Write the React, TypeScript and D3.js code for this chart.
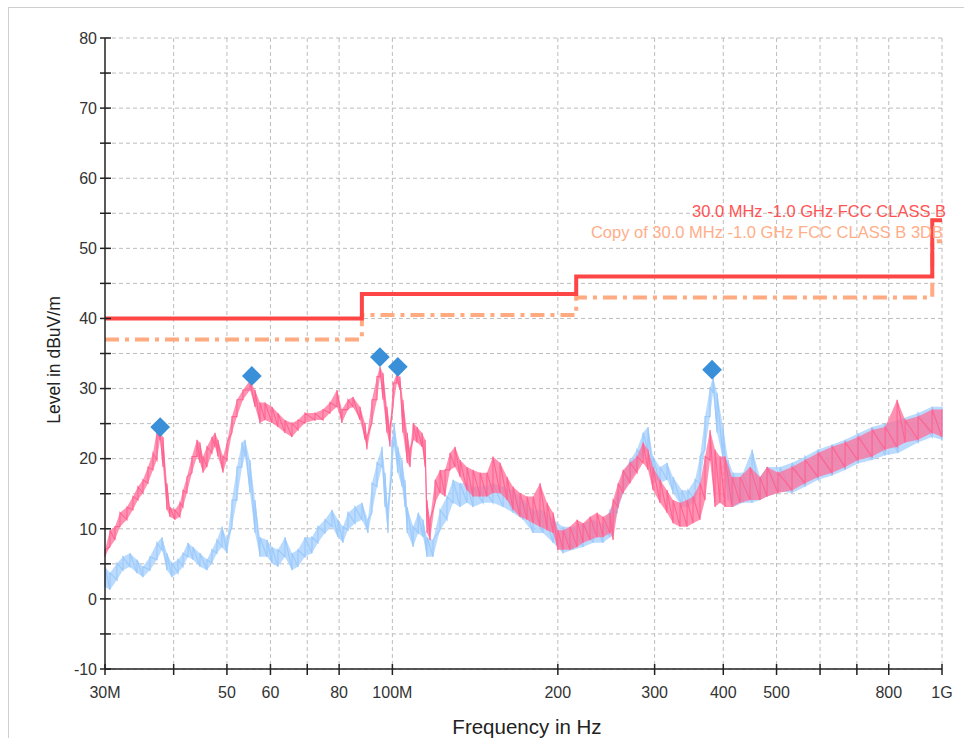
import * as d3 from "d3";

// frequency in MHz, level in dBuV/m
const xTicks = [30, 40, 50, 60, 70, 80, 100, 200, 300, 400, 500, 600, 700, 800, 1000];
const xTickLabels = ["30M", "", "50", "60", "", "80", "100M", "200", "300", "400", "500", "", "", "800", "1G"];

// limit lines
const limitFreqs = [30, 88, 216, 960, 1000];
const classBLevels = [40, 43.5, 46, 54];
const classB3dbLevels = [37, 40.5, 43, 51];

// pink trace (envelope read as low / high per frequency)
const pinkFreq = [30.0, 30.63, 31.28, 31.94, 32.89, 33.73, 34.44, 35.17, 35.92, 36.68, 37.3, 37.77, 38.25, 38.89, 39.38, 40.21, 41.07, 41.59, 42.29, 43.19, 44.1, 44.66, 45.23, 45.99, 46.96, 47.56, 48.15, 49.18, 50.01, 51.07, 52.15, 53.48, 55.07, 56.24, 57.42, 58.64, 60.38, 61.92, 63.76, 65.66, 67.33, 69.34, 72.3, 74.77, 76.99, 79.29, 80.96, 83.02, 84.78, 87.31, 89.16, 89.9, 91.8, 93.75, 94.94, 96.15, 97.76, 99.0, 100.3, 101.9, 103.2, 104.5, 106.4, 107.7, 109.1, 110.9, 113.2, 114.7, 115.6, 117.1, 119.6, 122.1, 124.7, 127.3, 130.0, 132.8, 136.7, 140.2, 144.4, 148.6, 152.4, 157.0, 161.7, 165.8, 170.7, 175.8, 180.3, 185.6, 191.2, 196.1, 200, 204.4, 210.5, 216.8, 222.3, 228.9, 235.7, 241.7, 248.9, 252.1, 257.4, 262.9, 270.7, 278.7, 285.8, 291.8, 298.0, 306.9, 316.0, 324.1, 333.7, 343.7, 352.4, 362.9, 370.6, 378.4, 386.4, 394.6, 403.0, 415.0, 429.1, 447.5, 466.6, 480.5, 503.1, 533.5, 563.5, 595.0, 631.0, 666.3, 703.5, 746.1, 788.0, 828.5, 856.8, 904.7, 959.4, 1000];
const pinkLo = [6.0, 7.4, 8.4, 10.3, 11.3, 12.7, 14.1, 15.1, 16.5, 18.4, 19.8, 22.7, 18.8, 12.7, 11.7, 11.3, 11.7, 13.1, 15.1, 18, 20.3, 19.4, 18, 18.8, 20.8, 21.7, 20.3, 18, 19.8, 23.7, 26, 28.4, 29.8, 27.4, 25.1, 25.5, 25.1, 24.5, 23.7, 23.1, 24.1, 25.1, 25.5, 25.5, 26.5, 27.4, 25.1, 27, 27.4, 25.5, 22.7, 21.3, 25.1, 28.4, 31.7, 28.4, 23.7, 21.7, 27.4, 30.8, 29.8, 23.7, 19.4, 18.8, 22.7, 22.3, 21.7, 18.8, 9.4, 8.4, 13.7, 15.1, 14.6, 18.4, 18.8, 17.4, 15.5, 14.6, 14.6, 14.6, 15.1, 15.1, 14.1, 12.7, 11.7, 11.3, 10.8, 10.3, 9.8, 9.4, 7, 7, 7, 7.4, 8, 8.4, 8.8, 8.8, 9.4, 8.4, 13.1, 15.1, 16.5, 18, 19.4, 18.4, 15.5, 13.7, 12.3, 10.8, 10.3, 10.3, 10.8, 11.3, 14.1, 19.8, 13.1, 13.7, 13.1, 13.1, 13.7, 14.1, 14.1, 14.6, 15.1, 15.5, 16.5, 17.4, 18, 18.8, 19.8, 20.3, 21.3, 21.7, 22.3, 22.7, 23.7, 23.1];
const pinkHi = [7.0, 9.8, 10.3, 12.3, 13.1, 14.6, 16, 17, 18.8, 20.8, 24.1, 24.1, 23.1, 16.5, 13.1, 12.7, 13.7, 15.5, 17.4, 20.3, 22.7, 22.3, 20.3, 21.7, 23.1, 23.7, 22.7, 20.3, 22.3, 26, 28.4, 29.8, 31.2, 29.8, 28, 28, 27.4, 26.5, 25.5, 25.1, 25.5, 26.5, 26.5, 27, 28, 29.8, 27, 28.4, 28.8, 27.4, 25.1, 23.1, 28.4, 31.7, 33.1, 32.2, 27.4, 24.5, 30.8, 32.2, 31.7, 28.4, 23.7, 21.3, 25.1, 24.5, 23.7, 22.7, 14.1, 11.3, 17, 18.4, 18.4, 20.8, 21.7, 19.8, 18.8, 18.4, 18, 18, 20.3, 19.4, 17.4, 16, 15.1, 14.6, 14.6, 16.5, 13.7, 12.3, 9.8, 9.8, 10.3, 11.3, 10.8, 11.7, 12.3, 11.7, 12.3, 14.1, 16.5, 18.4, 19.4, 20.3, 22.3, 21.3, 18.8, 17, 15.5, 14.1, 13.7, 14.1, 14.6, 16.5, 20.3, 24.1, 21.3, 20.3, 20.3, 17.4, 17.4, 18.8, 17.4, 18.8, 18, 18.8, 19.8, 20.8, 21.7, 22.3, 23.1, 24.1, 24.5, 28.4, 25.5, 26, 27, 27];

// blue trace
const blueFreq = [30.0, 30.63, 31.54, 32.35, 33.31, 34.3, 35.17, 36.22, 37.3, 38.09, 38.89, 39.71, 40.73, 41.59, 42.47, 43.37, 44.66, 45.99, 46.96, 47.95, 48.97, 50.01, 51.07, 52.15, 53.25, 53.93, 55.07, 56.24, 57.42, 59.13, 60.38, 61.92, 63.76, 65.66, 67.33, 69.34, 71.39, 73.21, 75.4, 77.64, 79.62, 81.31, 83.02, 85.5, 88.04, 90.28, 91.8, 93.75, 95.74, 96.95, 98.17, 99.83, 100.7, 102.3, 104.1, 105.4, 106.4, 109.1, 111.4, 113.7, 115.6, 118.6, 122.1, 125.7, 128.9, 132.8, 136.7, 140.2, 146.2, 152.4, 159.0, 165.8, 172.9, 180.3, 188.0, 196.1, 204.4, 213.2, 222.3, 231.8, 241.7, 248.9, 256.4, 262.9, 270.7, 278.7, 285.8, 291.8, 298.0, 306.9, 316.0, 324.1, 336.5, 345.1, 355.4, 362.9, 370.6, 378.4, 383.2, 389.7, 399.6, 408.1, 416.7, 434.5, 451.3, 466.6, 480.5, 507.4, 533.5, 563.5, 595.0, 631.0, 666.3, 703.5, 746.1, 788.0, 832.0, 904.7, 959.4, 1000];
const blueLo = [1.7, 1.3, 2.7, 4.1, 4.6, 3.7, 3.1, 4.1, 5.6, 7, 4.1, 3.1, 3.7, 4.6, 6, 5.6, 4.6, 4.1, 5.1, 6.5, 7.4, 6.5, 10.3, 14.1, 18.8, 20.3, 15.1, 9.4, 6, 6, 5.1, 4.6, 6, 4.1, 4.6, 6, 6.5, 8, 9.4, 10.3, 8.8, 8, 9.8, 10.8, 11.3, 9.4, 12.3, 16, 18.8, 13.1, 9.4, 18, 21.7, 18, 16, 13.1, 9.4, 7.4, 9.4, 8.8, 6, 6, 9.8, 11.3, 13.7, 13.1, 13.7, 13.1, 13.7, 13.7, 13.1, 12.3, 11.3, 9.4, 9.4, 8, 6.5, 7, 7.4, 8, 8, 8.8, 12.3, 15.1, 17, 18.4, 20.3, 21.3, 17.4, 16.5, 17, 15.1, 13.1, 13.1, 14.1, 16.5, 21.3, 26, 29.4, 23.7, 19.8, 14.1, 13.1, 13.7, 13.7, 14.1, 14.6, 15.3, 15.1, 16, 17, 17.6, 18.4, 19.3, 19.8, 20.5, 20.8, 22.3, 23.1, 22.7];
const blueHi = [4.6, 3.7, 5.1, 6, 6.5, 5.6, 4.6, 6, 8, 8.8, 6.5, 5.1, 5.6, 6.5, 8, 7.4, 6.5, 5.6, 7, 8.4, 10.3, 8.4, 14.1, 18.8, 22.3, 22.7, 19.8, 14.1, 8.8, 8.4, 7.4, 7, 8.8, 6.5, 7, 8.8, 8.8, 10.3, 11.3, 12.7, 11.3, 10.3, 12.3, 13.1, 13.7, 11.3, 16.5, 19.4, 21.7, 18, 13.1, 22.7, 25.1, 21.7, 19.8, 17, 13.1, 10.3, 12.3, 11.3, 8.8, 8.4, 12.7, 14.6, 17, 16.5, 16.5, 16, 16, 16.5, 16, 15.5, 14.1, 12.7, 12.7, 11.3, 10.3, 10.3, 10.8, 11.3, 10.8, 12.7, 15.1, 18, 19.8, 21.3, 23.7, 24.5, 20.3, 18.8, 19.4, 17.4, 15.5, 15.5, 17, 20.3, 26, 30.2, 31.7, 29.4, 24.5, 19.8, 18, 18, 21.3, 17.4, 18.8, 18.8, 19.4, 20.3, 21.3, 22, 22.7, 23.6, 24.5, 25, 25.5, 26.5, 27.4, 27.4];

// peak markers
const markerFreq = [37.8, 55.5, 94.9, 102.3, 381.6];
const markerLevel = [24.5, 31.8, 34.5, 33.1, 32.7];

const W = 964;
const H = 738;
const left = 105, right = 942, top = 38, bottom = 669;
const font = "Arimo, 'Liberation Sans', Arial, sans-serif";

const x = d3.scaleLog().domain([30, 1000]).range([left, right]);
const y = d3.scaleLinear().domain([-10, 80]).range([bottom, top]);
const yTicks = d3.range(-10, 81, 5);

function stepPath(levels: number[]) {
  const pts: [number, number][] = [];
  levels.forEach((lv, i) => {
    pts.push([x(limitFreqs[i]), y(lv)]);
    pts.push([x(limitFreqs[i + 1]), y(lv)]);
  });
  return d3.line()(pts) ?? "";
}

function band(freq: number[], lo: number[], hi: number[]) {
  const idx = d3.range(freq.length);
  const area = d3
    .area<number>()
    .x((i) => x(freq[i]))
    .y0((i) => y(lo[i]))
    .y1((i) => y(hi[i]));
  const zig: [number, number][] = [];
  idx.forEach((i) => {
    zig.push([x(freq[i]), y(lo[i])]);
    zig.push([x(freq[i]), y(hi[i])]);
  });
  return { area: area(idx) ?? "", line: d3.line()(zig) ?? "" };
}

export default function App() {
  const pink = band(pinkFreq, pinkLo, pinkHi);
  const blue = band(blueFreq, blueLo, blueHi);
  const diamond = d3.symbol(d3.symbolSquare, 195)() ?? "";

  return (
    <svg
      width={W}
      height={H}
      style={{ position: "absolute", left: 0, top: 0, background: "#fff" }}
      fontFamily={font}
    >
      <rect x={8.5} y={7.5} width={1000} height={1000} fill="none" stroke="#cfcfcf" />

      {/* grid */}
      <g stroke="#bdbdbd" strokeDasharray="4,3" strokeWidth={1}>
        {yTicks.map((t) => (
          <line key={"gy" + t} x1={left} x2={right} y1={y(t)} y2={y(t)} />
        ))}
        {xTicks.slice(1).map((t) => (
          <line key={"gx" + t} x1={x(t)} x2={x(t)} y1={top} y2={bottom} />
        ))}
      </g>

      {/* traces */}
      <path d={blue.area} fill="#a3cffd" opacity={0.75} />
      <path d={blue.line} fill="none" stroke="#9ccafb" strokeWidth={1.2} />
      <path d={pink.area} fill="#ff6d98" opacity={0.75} />
      <path d={pink.line} fill="none" stroke="#ff6391" strokeWidth={1.1} />

      {/* limits */}
      <path d={stepPath(classB3dbLevels)} fill="none" stroke="#ffaa80" strokeWidth={4} strokeDasharray="14,6,4,6" />
      <path d={stepPath(classBLevels)} fill="none" stroke="#ff4646" strokeWidth={4} />

      {/* markers */}
      {markerFreq.map((f, i) => (
        <path
          key={"m" + i}
          d={diamond}
          transform={`translate(${x(f)},${y(markerLevel[i])}) rotate(45)`}
          fill="#3a90d8"
        />
      ))}

      <text x={946} y={217} textAnchor="end" fontSize={16.5} fill="#ff5454">
        30.0 MHz -1.0 GHz FCC CLASS B
      </text>
      <text x={943} y={238} textAnchor="end" fontSize={16.5} fill="#ffae8a">
        Copy of 30.0 MHz -1.0 GHz FCC CLASS B 3DB
      </text>

      {/* y axis */}
      <line x1={left} x2={left} y1={top} y2={bottom} stroke="#222" strokeWidth={1.5} />
      {yTicks.map((t) => (
        <g key={"yt" + t}>
          <line x1={left - 5} x2={left + 6} y1={y(t)} y2={y(t)} stroke="#222" strokeWidth={1.5} />
          {t % 10 === 0 && (
            <text x={97} y={y(t)} dy="0.36em" textAnchor="end" fontSize={16} fill="#333">
              {t}
            </text>
          )}
        </g>
      ))}

      {/* x axis */}
      <line x1={left} x2={right} y1={bottom} y2={bottom} stroke="#222" strokeWidth={1.5} />
      {xTicks.map((t, i) => (
        <g key={"xt" + t}>
          <line x1={x(t)} x2={x(t)} y1={bottom - 5} y2={bottom + 6} stroke="#222" strokeWidth={1.5} />
          {xTickLabels[i] && (
            <text x={x(t)} y={698} textAnchor="middle" fontSize={16} fill="#333">
              {xTickLabels[i]}
            </text>
          )}
        </g>
      ))}

      <text x={527} y={734} textAnchor="middle" fontSize={20.5} fill="#222">
        Frequency in Hz
      </text>
      <text transform="translate(60,360) rotate(-90)" textAnchor="middle" fontSize={17.5} fill="#222">
        Level in dBuV/m
      </text>
    </svg>
  );
}
